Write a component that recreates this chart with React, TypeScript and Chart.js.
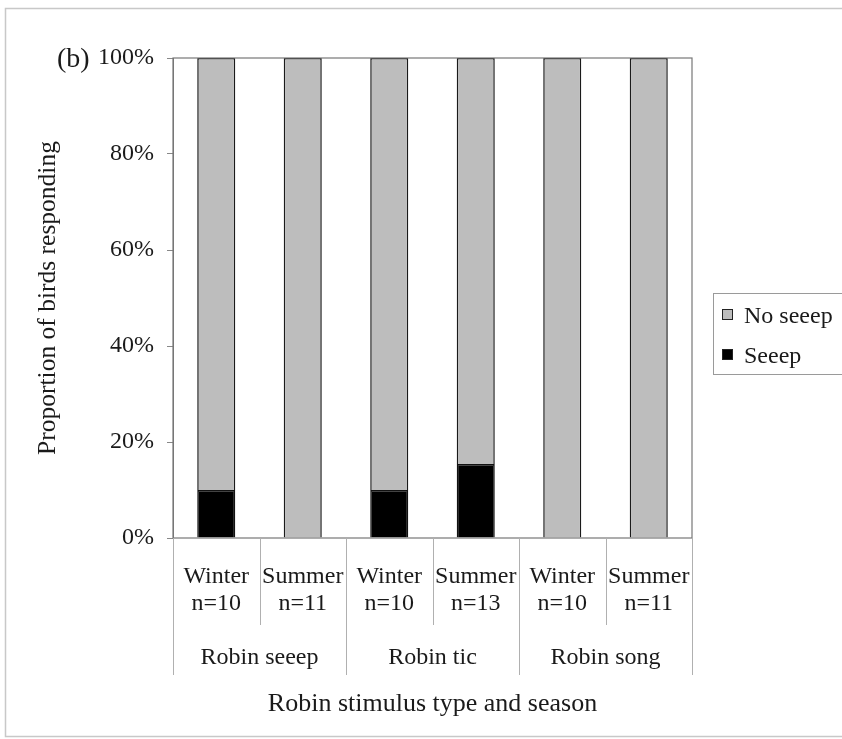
import React, { useEffect, useRef } from "react";
import { Chart, registerables } from "chart.js";

Chart.register(...registerables);

const seasons = ["Winter", "Summer", "Winter", "Summer", "Winter", "Summer"];
const sampleSizes = ["n=10", "n=11", "n=10", "n=13", "n=10", "n=11"];
const groups = ["Robin seeep", "Robin tic", "Robin song"];
const seeep = [10, 0, 10, 15.4, 0, 0];
const noSeeep = [90, 100, 90, 84.6, 100, 100];
const yTicks = [0, 20, 40, 60, 80, 100];

const FONT = "'Liberation Serif', 'Times New Roman', serif";
const W = 842;
const H = 739;

const decorPlugin = {
  id: "decor",
  beforeDraw(chart: any) {
    const ctx = chart.ctx;
    ctx.save();
    ctx.fillStyle = "#ffffff";
    ctx.fillRect(0, 0, W, H);
    ctx.strokeStyle = "#c8c8c8";
    ctx.lineWidth = 1.5;
    ctx.strokeRect(5.5, 8.5, 860, 728);
    ctx.restore();
  },
  afterDraw(chart: any) {
    const ctx = chart.ctx;
    const { left, right, top, bottom } = chart.chartArea;
    const x = chart.scales.x;
    ctx.save();
    // plot border
    ctx.strokeStyle = "#777";
    ctx.lineWidth = 1.2;
    ctx.strokeRect(left, top, right - left, bottom - top);
    // category separators
    const n = seasons.length;
    const step = x.getPixelForValue(1) - x.getPixelForValue(0);
    ctx.strokeStyle = "#b0b0b0";
    ctx.lineWidth = 1;
    for (let i = 0; i <= n; i++) {
      const px = Math.round(x.getPixelForValue(i) - step / 2) + 0.5;
      const long = i % 2 === 0;
      ctx.beginPath();
      ctx.moveTo(px, bottom);
      ctx.lineTo(px, long ? 675 : 625);
      ctx.stroke();
    }
    // group labels
    ctx.fillStyle = "#1a1a1a";
    ctx.font = `24px ${FONT}`;
    ctx.textAlign = "center";
    ctx.textBaseline = "alphabetic";
    groups.forEach((g, gi) => {
      const cx = (x.getPixelForValue(gi * 2) + x.getPixelForValue(gi * 2 + 1)) / 2;
      ctx.fillText(g, cx, 664);
    });
    // panel label
    ctx.font = `28px ${FONT}`;
    ctx.textAlign = "left";
    ctx.fillText("(b)", 57, 67);
    // legend
    ctx.strokeStyle = "#9a9a9a";
    ctx.lineWidth = 1;
    ctx.strokeRect(713.5, 293.5, 150, 81);
    const items = [
      { label: chart.data.datasets[1].label, color: chart.data.datasets[1].backgroundColor, y: 323 },
      { label: chart.data.datasets[0].label, color: chart.data.datasets[0].backgroundColor, y: 363 },
    ];
    ctx.font = `24px ${FONT}`;
    items.forEach((it) => {
      ctx.fillStyle = it.color;
      ctx.fillRect(722, it.y - 14, 11, 11);
      ctx.strokeStyle = "#222";
      ctx.strokeRect(722.5, it.y - 13.5, 10, 10);
      ctx.fillStyle = "#1a1a1a";
      ctx.fillText(it.label, 744, it.y);
    });
    ctx.restore();
  },
};

export default function App() {
  const ref = useRef<HTMLCanvasElement | null>(null);
  useEffect(() => {
    if (!ref.current) return;
    const labels = seasons.map((s, i) => [s, sampleSizes[i]]);
    const chart = new Chart(ref.current, {
      type: "bar",
      data: {
        labels,
        datasets: [
          {
            label: "Seeep",
            data: seeep,
            backgroundColor: "#000000",
            borderColor: "#111111",
            borderWidth: 1.5,
            barPercentage: 0.44,
            categoryPercentage: 1,
          },
          {
            label: "No seeep",
            data: noSeeep,
            backgroundColor: "#bdbdbd",
            borderColor: "#1a1a1a",
            borderWidth: 1.5,
            barPercentage: 0.44,
            categoryPercentage: 1,
          },
        ],
      },
      options: {
        responsive: false,
        animation: false,
        layout: { padding: { top: 58, left: 0, right: 150, bottom: 8 } },
        plugins: {
          legend: { display: false },
          tooltip: { enabled: false },
        },
        scales: {
          x: {
            stacked: true,
            grid: { display: false },
            border: { display: false },
            ticks: {
              color: "#1a1a1a",
              font: { family: FONT, size: 24, lineHeight: 1.12 },
              padding: 17,
              maxRotation: 0,
              autoSkip: false,
            },
            title: {
              display: true,
              text: "Robin stimulus type and season",
              color: "#1a1a1a",
              font: { family: FONT, size: 26, lineHeight: 1.2 },
              padding: { top: 0, bottom: 11 },
            },
            afterFit(scale: any) {
              scale.height = H - 8 - 538;
            },
          },
          y: {
            stacked: true,
            min: 0,
            max: 100,
            afterBuildTicks(scale: any) {
              scale.ticks = yTicks.map((v) => ({ value: v }));
            },
            grid: {
              display: true,
              drawOnChartArea: false,
              tickLength: 6,
              color: "#888",
            },
            border: { display: true, color: "#777" },
            ticks: {
              color: "#1a1a1a",
              font: { family: FONT, size: 24 },
              padding: 13,
              callback: (v: any) => `${v}%`,
            },
            title: {
              display: true,
              text: "Proportion of birds responding",
              color: "#1a1a1a",
              font: { family: FONT, size: 25.5, lineHeight: 1.2 },
              padding: { top: 33, bottom: 0 },
            },
            afterFit(scale: any) {
              scale.width = 173;
            },
          },
        },
      },
      plugins: [decorPlugin],
    });
    return () => chart.destroy();
  }, []);
  return (
    <div style={{ position: "fixed", left: 0, top: 0, width: W, height: H, background: "#fff" }}>
      <canvas ref={ref} width={W} height={H} style={{ width: W, height: H, display: "block" }} />
    </div>
  );
}
